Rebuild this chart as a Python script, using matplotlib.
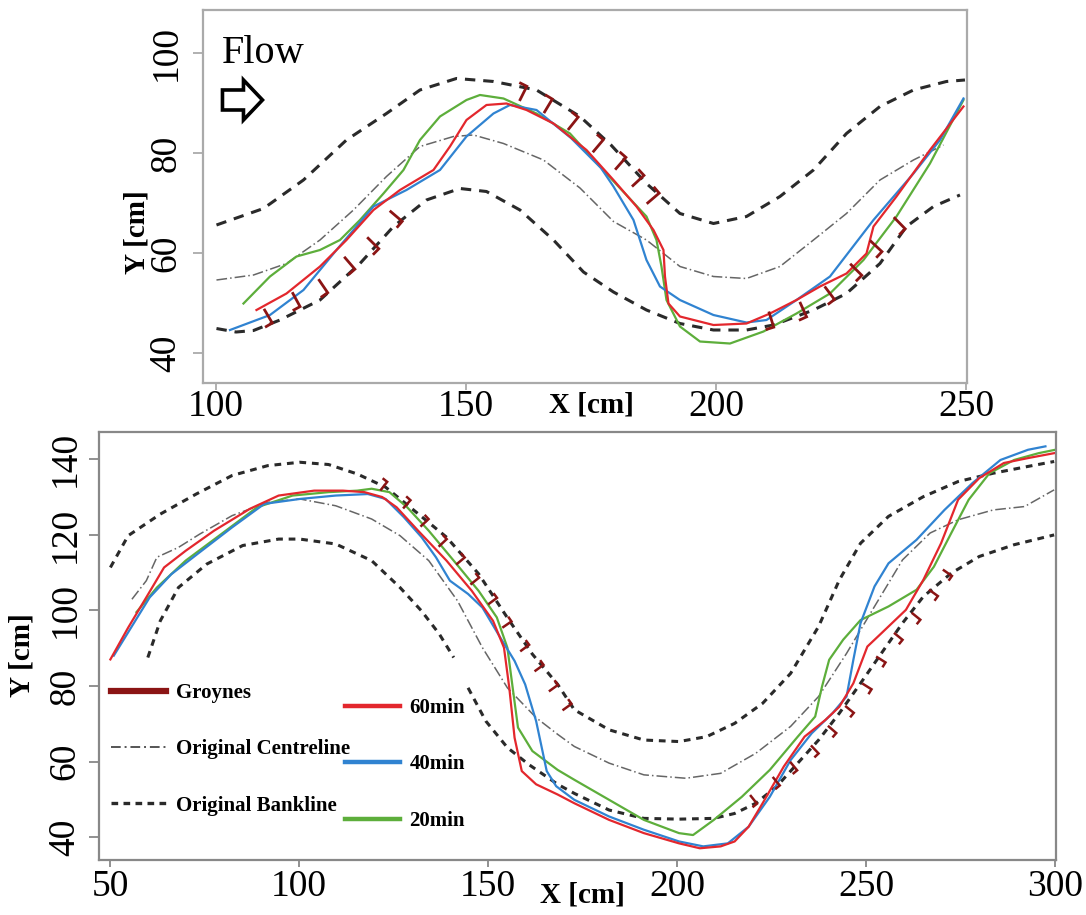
import numpy as np
import matplotlib
matplotlib.use('Agg')
import matplotlib.pyplot as plt
from matplotlib.lines import Line2D
from matplotlib.patches import FancyArrow

plt.rcParams['font.family'] = ['Liberation Serif', 'DejaVu Serif']

# ---------------- top panel data (x, y in cm) ----------------
top_bank_upper = [(100.1, 65.6), (109.5, 68.9), (117.5, 74.6), (126.1, 82.6), (134.1, 87.9),
                  (140.8, 92.6), (148.1, 94.9), (155.5, 94.3), (164.1, 92.6), (172.8, 87.3),
                  (179.0, 81.6), (186.1, 73.9), (192.8, 67.9), (199.5, 65.9), (206.1, 67.3),
                  (212.8, 71.3), (219.5, 76.6), (226.1, 83.9), (232.8, 89.3), (239.5, 92.6),
                  (246.1, 94.3), (249.8, 94.6)]
top_bank_lower = [(100.1, 44.9), (104.0, 44.2), (107.5, 44.5), (112.8, 46.6), (120.8, 50.6),
                  (128.8, 57.9), (135.5, 65.3), (142.1, 70.6), (148.8, 72.9), (154.1, 72.3),
                  (160.8, 68.6), (167.5, 62.6), (173.5, 56.2), (179.5, 52.2), (186.1, 48.6),
                  (192.8, 45.9), (199.5, 44.6), (206.1, 44.6), (211.5, 45.6), (219.5, 48.6),
                  (226.1, 51.9), (232.8, 57.9), (238.1, 65.3), (243.5, 69.3), (248.8, 71.6)]
top_centre = [(100.1, 54.6), (107.5, 55.6), (114.1, 57.9), (120.8, 62.6), (127.5, 68.6),
              (134.1, 75.3), (140.8, 81.3), (147.5, 83.3), (151.5, 83.6), (157.5, 81.9),
              (165.5, 78.6), (172.8, 73.0), (179.5, 66.3), (186.1, 62.6), (192.8, 57.3),
              (199.5, 55.3), (206.1, 54.9), (212.8, 57.3), (219.5, 62.6), (226.1, 67.9),
              (232.8, 74.6), (239.5, 78.6), (245.5, 81.6)]
top_60 = [(108.1, 48.6), (114.1, 51.9), (120.8, 57.3), (126.1, 62.6), (131.5, 68.6),
          (136.8, 72.6), (143.5, 76.6), (146.8, 81.3), (150.1, 86.6), (154.1, 89.6),
          (158.1, 89.9), (162.1, 88.6), (167.5, 85.9), (174.1, 80.6), (179.5, 74.6),
          (184.1, 69.3), (187.5, 64.6), (189.5, 60.6), (189.8, 55.3), (190.5, 49.9),
          (192.8, 47.3), (199.5, 45.6), (206.1, 45.9), (210.8, 47.9), (216.1, 50.6),
          (220.8, 53.3), (226.1, 55.9), (230.1, 59.9), (231.5, 65.3), (236.1, 71.3),
          (242.8, 80.6), (249.5, 89.3)]
top_40 = [(102.8, 44.6), (110.8, 47.6), (117.5, 52.6), (124.1, 60.6), (131.5, 69.3),
          (138.1, 72.6), (144.8, 76.6), (150.1, 83.3), (155.5, 87.9), (158.8, 89.6),
          (164.1, 88.6), (171.0, 83.0), (177.0, 77.0), (179.5, 73.3), (183.5, 66.6),
          (186.1, 58.6), (188.8, 53.3), (192.8, 50.6), (199.5, 47.6), (206.1, 46.1),
          (210.1, 46.6), (216.1, 50.6), (222.8, 55.3), (231.5, 66.6), (239.5, 75.9),
          (244.8, 82.6), (249.5, 90.9)]
top_20 = [(105.5, 49.9), (110.8, 55.3), (116.1, 59.3), (120.8, 60.6), (124.8, 62.6),
          (128.8, 66.6), (133.5, 71.9), (137.5, 76.6), (140.8, 82.6), (144.8, 87.3),
          (150.1, 90.6), (152.8, 91.6), (157.5, 90.9), (164.1, 87.9), (170.8, 83.9),
          (177.5, 76.5), (186.1, 67.3), (188.1, 62.6), (189.1, 57.3), (190.1, 50.6),
          (192.8, 45.3), (196.8, 42.3), (202.8, 41.9), (209.5, 44.3), (216.1, 47.9),
          (222.8, 51.9), (229.5, 58.6), (236.1, 67.3), (242.8, 77.9), (249.5, 90.6)]
top_groynes_upper = [(161.5, 92.0), (166.5, 89.5), (171.5, 86.0), (176.5, 81.5),
                     (181.0, 78.0), (184.5, 74.5), (187.5, 71.0)]
top_groynes_lower_a = [(110.5, 47.3), (116.1, 50.6), (121.5, 53.3), (126.8, 57.9),
                       (131.5, 61.9), (136.1, 67.3)]
top_groynes_lower_b = [(211.1, 46.6), (217.5, 48.6), (222.8, 51.9), (228.1, 56.6),
                       (232.1, 61.3), (236.8, 65.9)]

# ---------------- bottom panel data ----------------
bot_bank_upper = [(50.1, 111.3), (54.8, 119.7), (63.3, 125.4), (72.8, 130.7), (82.3, 135.6),
                  (91.7, 138.2), (100.2, 139.1), (107.8, 138.5), (115.4, 136.0), (122.9, 132.5),
                  (130.5, 126.3), (139.0, 119.3), (147.5, 109.6), (155.1, 98.0), (161.7, 88.4),
                  (168.4, 80.4), (172.8, 73.7), (182.0, 68.4), (191.2, 65.7), (200.5, 65.3),
                  (207.8, 66.6), (215.2, 70.1), (222.6, 75.4), (230.0, 83.3), (237.4, 95.7),
                  (242.9, 108.0), (248.5, 117.7), (255.9, 124.8), (265.1, 130.0), (274.3, 134.0),
                  (283.6, 136.2), (292.8, 138.0), (299.7, 139.3)]
bot_bank_lower = [(60.0, 87.5), (63.3, 97.2), (68.1, 106.0), (75.6, 112.2), (85.1, 117.1),
                  (94.6, 118.8), (100.2, 118.8), (109.7, 117.5), (119.2, 113.1), (126.7, 106.0),
                  (132.4, 99.8), (137.1, 93.7), (140.9, 87.5), (np.nan, np.nan),
                  (144.7, 79.5), (149.4, 70.7), (155.1, 63.7), (160.8, 59.2), (168.4, 54.0),
                  (172.8, 51.6), (182.0, 47.2), (191.2, 45.0), (200.5, 44.8), (209.7, 45.0),
                  (215.2, 46.3), (220.8, 49.0), (226.3, 53.4), (231.9, 59.6), (237.4, 65.7),
                  (242.9, 72.8), (248.5, 80.7), (254.0, 88.6), (259.6, 96.6), (265.1, 103.6),
                  (272.5, 109.8), (279.9, 114.2), (289.1, 117.3), (299.7, 119.9)]
bot_centre = [(55.8, 102.9), (59.6, 107.8), (62.4, 114.0), (68.1, 116.6), (73.7, 120.1),
              (82.3, 125.0), (91.7, 128.5), (100.2, 129.4), (109.7, 127.6), (119.2, 124.1),
              (126.7, 119.7), (134.3, 113.1), (141.9, 102.5), (148.5, 90.1), (155.1, 79.5),
              (162.7, 71.6), (168.4, 67.2), (172.8, 64.0), (182.0, 59.6), (191.2, 56.5),
              (202.3, 55.6), (211.5, 56.9), (220.8, 62.2), (230.0, 69.3), (237.4, 77.2),
              (244.8, 88.6), (252.2, 101.0), (259.6, 113.3), (266.9, 120.4), (274.3, 123.9),
              (283.6, 126.5), (291.9, 127.4), (299.7, 131.8)]
bot_60 = [(50.1, 87.0), (54.8, 95.4), (59.6, 103.4), (64.3, 111.3), (70.0, 115.7),
          (77.5, 121.0), (87.0, 126.8), (94.6, 130.3), (104.0, 131.6), (111.6, 131.6),
          (117.3, 131.2), (122.0, 129.9), (125.8, 127.2), (131.5, 121.0), (139.0, 113.1),
          (145.7, 105.1), (151.3, 97.2), (154.2, 90.1), (155.6, 79.5), (157.0, 66.3),
          (158.9, 57.5), (162.7, 54.0), (168.4, 51.3), (172.8, 49.0), (182.0, 44.6),
          (191.2, 41.1), (200.5, 38.4), (206.0, 37.1), (211.5, 37.6), (215.2, 38.9),
          (218.9, 42.8), (222.6, 49.0), (228.2, 58.7), (233.7, 66.6), (239.2, 71.0),
          (242.9, 74.5), (246.6, 80.7), (250.3, 90.4), (254.0, 93.9), (260.5, 100.1),
          (265.1, 108.0), (269.8, 117.7), (274.3, 129.2), (279.9, 134.9), (286.4, 138.9),
          (292.8, 140.2), (299.7, 141.5)]
bot_40 = [(51.0, 88.0), (60.5, 103.4), (66.2, 109.5), (73.7, 115.3), (82.3, 121.9),
          (90.8, 128.1), (100.2, 129.4), (109.7, 130.3), (118.2, 130.7), (122.9, 129.4),
          (127.7, 124.6), (132.4, 119.3), (136.2, 114.0), (139.9, 107.8), (144.7, 104.3),
          (148.5, 100.7), (153.2, 92.8), (157.0, 86.6), (159.8, 80.4), (162.7, 70.7),
          (165.5, 57.5), (168.0, 53.5), (172.8, 49.9), (182.0, 45.5), (191.2, 42.0),
          (200.5, 38.9), (206.9, 37.6), (213.4, 38.4), (218.9, 42.8), (224.5, 50.7),
          (230.0, 60.4), (235.6, 67.5), (241.1, 72.8), (244.8, 77.2), (246.6, 86.9),
          (248.5, 96.6), (252.2, 106.3), (255.9, 112.4), (263.3, 118.6), (270.7, 126.5),
          (278.1, 133.6), (285.5, 139.7), (292.8, 142.4), (297.4, 143.3)]
bot_20 = [(57.0, 99.5), (62.4, 106.0), (70.0, 113.1), (79.4, 120.1), (88.9, 127.2),
          (98.3, 130.3), (107.8, 131.2), (115.4, 131.6), (119.2, 132.1), (123.9, 131.2),
          (128.6, 127.2), (134.3, 121.0), (140.9, 113.1), (147.5, 105.1), (152.3, 98.1),
          (155.1, 90.1), (156.5, 79.5), (157.9, 69.0), (161.7, 62.8), (168.4, 57.8),
          (172.8, 55.2), (182.0, 49.9), (191.2, 44.6), (200.5, 41.1), (204.2, 40.6),
          (209.7, 44.6), (217.1, 50.7), (224.5, 57.8), (231.9, 66.6), (236.5, 71.9),
          (238.3, 79.8), (240.2, 86.9), (243.9, 92.2), (248.5, 97.4), (255.9, 101.0),
          (263.3, 105.4), (267.9, 111.5), (272.5, 120.4), (277.1, 129.2), (282.6, 136.2),
          (289.1, 139.7), (295.6, 141.5), (300.0, 142.4)]
bot_groynes_upper = [(122.5, 132.9), (128.6, 128.1), (133.3, 123.2), (138.1, 117.9),
                     (142.8, 113.1), (146.6, 107.8), (151.3, 102.5), (155.1, 96.3),
                     (159.8, 90.1), (163.6, 84.8), (167.4, 79.5), (171.0, 74.5)]
bot_groynes_lower = [(220.3, 49.9), (226.3, 54.7), (230.9, 58.7), (236.5, 63.1),
                     (241.1, 68.4), (245.7, 73.7), (250.3, 79.8), (254.0, 86.9),
                     (258.6, 93.0), (263.3, 98.3), (267.9, 104.5), (271.6, 109.8)]

run_labels = ['60min', '40min', '20min']
line_labels = ['Groynes', 'Original Centreline', 'Original Bankline']

C60 = '#e3272d'
C40 = '#3083d1'
C20 = '#5dae3b'
CG = '#8b1414'


def line(ax, pts, **kw):
    a = np.array(pts, dtype=float)
    ax.plot(a[:, 0], a[:, 1], solid_joinstyle='round', **kw)


def groynes(ax, pts, side, length, foot, lw):
    p = np.array(pts, dtype=float)
    tx = np.gradient(p[:, 0])
    ty = np.gradient(p[:, 1])
    n = np.hypot(tx, ty)
    tx, ty = tx / n, ty / n
    if side == 'upper':
        nx, ny = ty, -tx
    else:
        nx, ny = -ty, tx
    for (x, y), a, b, c, d in zip(p, tx, ty, nx, ny):
        rx, ry = x - c * length / 2, y - d * length / 2
        ex, ey = x + c * length / 2, y + d * length / 2
        ax.plot([rx - a * foot, rx, ex], [ry - b * foot, ry, ey], color=CG, lw=lw,
                solid_joinstyle='miter', zorder=3)


def style_axes(ax, spine_col, ypad, xpad):
    for s in ax.spines.values():
        s.set_color(spine_col)
        s.set_linewidth(1.6)
    ax.tick_params(direction='out', color=spine_col, width=1.3, labelsize=27)
    ax.tick_params(axis='y', labelrotation=90, length=7, pad=ypad)
    ax.tick_params(axis='x', length=5, pad=xpad)
    for t in ax.get_yticklabels():
        t.set_va('center')


fig = plt.figure(figsize=(10.86, 9.15), dpi=100)

# ---------------- top panel ----------------
ax1 = fig.add_axes([0.1869, 0.5814, 0.7035, 0.4077])
bank_top = dict(color='#2a2a2a', lw=2.2, ls=(0, (3.4, 2.6)))
line(ax1, top_bank_upper, **bank_top)
line(ax1, top_bank_lower, **bank_top)
line(ax1, top_centre, color='#666666', lw=1.1, ls=(0, (7, 2, 1, 2)))
groynes(ax1, top_groynes_upper, 'upper', 3.0, 1.4, 2.0)
groynes(ax1, top_groynes_lower_a, 'lower', 3.0, 1.4, 2.0)
groynes(ax1, top_groynes_lower_b, 'lower', 3.0, 1.4, 2.0)
line(ax1, top_20, color=C20, lw=1.6)
line(ax1, top_40, color=C40, lw=1.6)
line(ax1, top_60, color=C60, lw=1.6)

ax1.set_xlim(97.4, 250.2)
ax1.set_ylim(34, 108.6)
ax1.set_xticks([100, 150, 200, 250])
ax1.set_yticks([40, 60, 80, 100])
style_axes(ax1, '#aaaaaa', 7, 0)

ax1.text(0.025, 0.858, 'Flow', transform=ax1.transAxes, fontsize=29, va='baseline')
ax1.add_patch(FancyArrow(101.3, 90.6, 8.0, 0, width=4.0, head_width=8.0, head_length=3.8,
                         length_includes_head=True, fc='white', ec='black', lw=2.6))
ax1.text(0.509, -0.059, 'X [cm]', transform=ax1.transAxes, fontsize=21, fontweight='bold',
         ha='center', va='center')
ax1.text(-0.086, 0.405, 'Y [cm]', transform=ax1.transAxes, fontsize=21, fontweight='bold',
         ha='center', va='center', rotation=90)

# ---------------- bottom panel ----------------
ax2 = fig.add_axes([0.0912, 0.0601, 0.8812, 0.4678])
bank_bot = dict(color='#2a2a2a', lw=2.2, ls=(0, (2.2, 1.9)))
line(ax2, bot_bank_upper, **bank_bot)
line(ax2, bot_bank_lower, **bank_bot)
line(ax2, bot_centre, color='#666666', lw=1.1, ls=(0, (7, 2, 1, 2)))
groynes(ax2, bot_groynes_upper, 'upper', 2.6, 1.2, 1.8)
groynes(ax2, bot_groynes_lower, 'lower', 2.6, 1.2, 1.8)
line(ax2, bot_20, color=C20, lw=1.6)
line(ax2, bot_40, color=C40, lw=1.6)
line(ax2, bot_60, color=C60, lw=1.6)

ax2.set_xlim(47.1, 300.2)
ax2.set_ylim(34.0, 147.1)
ax2.set_xticks([50, 100, 150, 200, 250, 300])
ax2.set_yticks([40, 60, 80, 100, 120, 140])
style_axes(ax2, '#888888', 5, 2)

ax2.text(0.505, -0.082, 'X [cm]', transform=ax2.transAxes, fontsize=21, fontweight='bold',
         ha='center', va='center')
ax2.text(-0.080, 0.479, 'Y [cm]', transform=ax2.transAxes, fontsize=21, fontweight='bold',
         ha='center', va='center', rotation=90)

leg_font = dict(family='Liberation Serif', weight='bold', size=15)
h1 = [Line2D([], [], color=CG, lw=4.5),
      Line2D([], [], color='#555555', lw=1.4, ls=(0, (5, 2, 1, 2))),
      Line2D([], [], color='#2a2a2a', lw=2.4, ls=(0, (2, 1.6)))]
leg1 = ax2.legend(h1, line_labels, loc='upper left', bbox_to_anchor=(0.0125, 0.414),
                  frameon=False, borderpad=0, borderaxespad=0, handlelength=2.65,
                  handletextpad=0.45, labelspacing=1.75, prop=leg_font)
ax2.add_artist(leg1)
h2 = [Line2D([], [], color=C60, lw=3.2),
      Line2D([], [], color=C40, lw=3.2),
      Line2D([], [], color=C20, lw=3.2)]
ax2.legend(h2, run_labels, loc='upper left', bbox_to_anchor=(0.257, 0.3785),
           frameon=False, borderpad=0, borderaxespad=0, handlelength=2.65,
           handletextpad=0.45, labelspacing=1.75, prop=leg_font)

fig.savefig('out.png', dpi=100)
